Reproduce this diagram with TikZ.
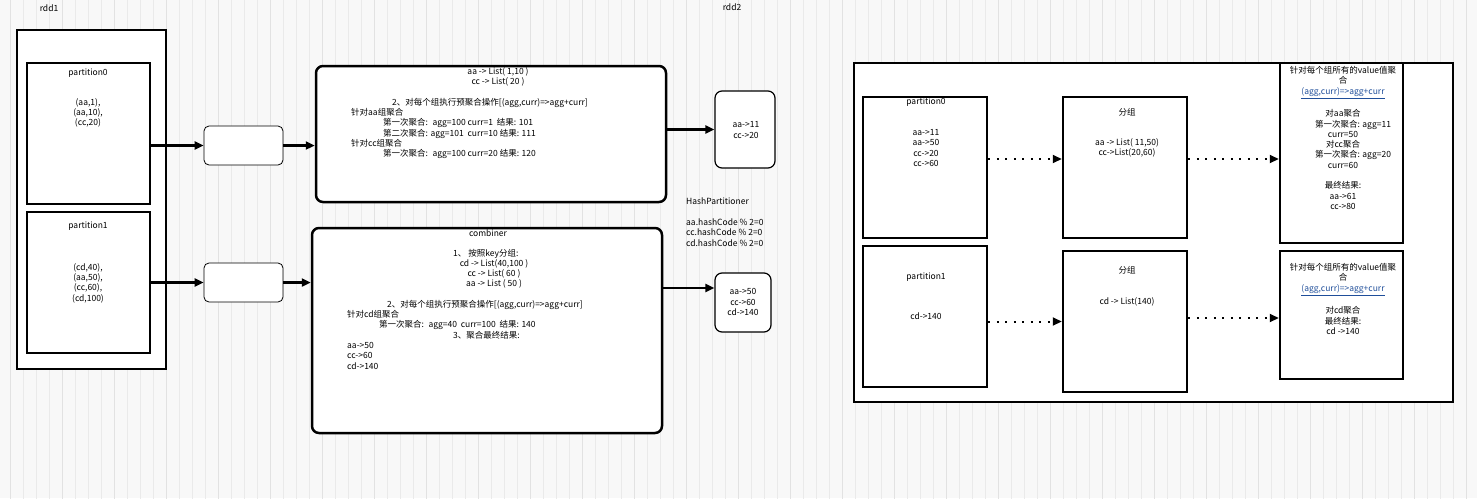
\documentclass[tikz,border=0pt]{standalone}
\usepackage{fontspec}
\setmainfont{Noto Sans CJK SC}
\usetikzlibrary{arrows.meta}
\definecolor{gridbg}{HTML}{F8F8F8}
\definecolor{gridln}{HTML}{EAEAEA}
\definecolor{gridmj}{HTML}{E2E2E2}
\definecolor{linkblue}{HTML}{1F4E9A}
\begin{document}
\begin{tikzpicture}[x=1pt,y=-1pt,
	box/.style={draw,fill=white,line width=2.5pt,inner sep=0pt},
	rbox/.style={draw,fill=white,rounded corners=7pt,inner sep=0pt},
	txt/.style={inner sep=0pt,font=\fontsize{8.5}{10.3}\selectfont,align=center},
	ltxt/.style={txt,align=left,anchor=north west},
	arr/.style={line width=2.5pt,-{Triangle[length=9pt,width=8pt]}},
	dotarr/.style={line width=2pt,dash pattern=on 2pt off 6.5pt,-{Triangle[length=9pt,width=8pt]}}]
	\useasboundingbox (0,0) rectangle (1477,498);
	% background grid
	\fill[gridbg] (0,0) rectangle (1477,498);
	\draw[gridln,line width=1pt,shift={(10.3,8.7)}] (-13,-13) grid[step=13] (1470,492);
	\draw[gridmj,line width=1pt,shift={(10.3,8.7)}] (-52,-52) grid[step=52] (1470,492);
	% rdd1
	\node[txt] (rddA) at (49,8) {rdd1};
	\node[box,line width=2pt,minimum width=149,minimum height=339] (rdd1) at (91.5,199.5) {};
	\node[box,minimum width=123,minimum height=141] (p0) at (88.5,133.5) {};
	\node[box,minimum width=123,minimum height=141] (p1) at (88.5,282.5) {};
	\node[txt] (p0t) at (88,73) {partition0};
	\node[txt] (p0d) at (88,113) {(aa,1),\\(aa,10),\\(cc,20)};
	\node[txt] (p1t) at (88,226) {partition1};
	\node[txt] (p1d) at (88,283) {(cd,40),\\(aa,50),\\(cc,60),\\(cd,100)};
	% small boxes
	\node[rbox,line width=0.8pt,rounded corners=5pt,minimum width=79,minimum height=39] (m0) at (243.5,145.5) {};
	\node[rbox,line width=0.8pt,rounded corners=5pt,minimum width=79,minimum height=39] (m1) at (243.5,282.5) {};
	% pre-aggregation of partition0
	\node[rbox,line width=2.5pt,minimum width=350,minimum height=136] (pre0) at (491,134) {};
	\node[txt] (pre0a) at (498,77) {aa -> List( 1,10 )\\cc -> List( 20 )};
	\node[ltxt] (pre0b) at (351,98) {\hspace*{41pt}2、对每个组执行预聚合操作[(agg,curr)=>agg+curr]\\
		针对aa组聚合\\
		\hspace*{32pt}第一次聚合:~ agg=100 curr=1~ 结果: 101\\
		\hspace*{32pt}第二次聚合: agg=101~ curr=10 结果: 111\\
		针对cc组聚合\\
		\hspace*{32pt}第一次聚合:~ agg=100 curr=20 结果: 120};
	% combiner
	\node[rbox,line width=2.5pt,minimum width=350,minimum height=205] (comb) at (487,330.5) {};
	\node[txt] (combt) at (488,233) {combiner};
	\node[txt,anchor=west] (combk) at (453,254) {1、 按照key分组:};
	\node[txt] (comba) at (494,274) {cd -> List(40,100 )\\cc -> List( 60 )\\aa -> List ( 50 )};
	\node[ltxt] (combb) at (347,300) {\hspace*{40pt}2、对每个组执行预聚合操作[(agg,curr)=>agg+curr]\\
		针对cd组聚合\\
		\hspace*{32pt}第一次聚合:~ agg=40~ curr=100~ 结果: 140\\
		\hspace*{106pt}3、聚合最终结果:\\
		aa->50\\cc->60\\cd->140};
	% rdd2
	\node[txt] (rddB) at (732,7) {rdd2};
	\node[rbox,line width=1.2pt,minimum width=60,minimum height=77] (r0) at (745,129.5) {};
	\node[txt] (r0d) at (746,130) {aa->11\\cc->20};
	\node[rbox,line width=1.2pt,minimum width=56,minimum height=59] (r1) at (743,302.5) {};
	\node[txt] (r1d) at (743,302) {aa->50\\cc->60\\cd->140};
	\node[ltxt] (hash) at (686,198) {HashPartitioner\\[10.3pt]aa.hashCode \% 2=0\\cc.hashCode \% 2=0\\cd.hashCode \% 2=0};
	% arrows
	\draw[arr] (p0.east |- m0.west) -- (m0.west);
	\draw[arr] (m0.east) -- (pre0.west |- m0.east);
	\draw[arr] (p1.east |- m1.west) -- (m1.west);
	\draw[arr] (m1.east) -- (comb.west |- m1.east);
	\draw[arr] (pre0.east |- r0.west) -- (r0.west);
	\coordinate (c1) at ([yshift=14.5]r1.west);
	\draw[arr] (comb.east |- c1) -- (c1);
	% right part
	\node[box,minimum width=599,minimum height=339] (rdd2) at (1153.5,232.5) {};
	\node[box,minimum width=124,minimum height=141] (rp0) at (925,167.5) {};
	\node[box,minimum width=124,minimum height=141] (rp1) at (925,316.5) {};
	\node[box,minimum width=124,minimum height=141] (g0) at (1125,167.5) {};
	\node[box,minimum width=124,minimum height=141] (g1) at (1125,321.5) {};
	\node[box,minimum width=123,minimum height=180] (a0) at (1341.5,153) {};
	\node[box,minimum width=123,minimum height=128] (a1) at (1341.5,315) {};
	\node[txt] (rp0t) at (926,102) {partition0};
	\node[txt] (rp0d) at (926,148) {aa->11\\aa->50\\cc->20\\cc->60};
	\node[txt] (rp1t) at (926,277) {partition1};
	\node[txt] (rp1d) at (926,316) {cd->140};
	\node[txt] (g0t) at (1127,112) {分组};
	\node[txt] (g0d) at (1127,148) {aa -> List( 11,50)\\cc->List(20,60)};
	\node[txt] (g1t) at (1127,270) {分组};
	\node[txt] (g1d) at (1127,302) {cd -> List(140)};
	\node[txt] (a0d) at (1343,138) {针对每个组所有的value值聚\\合\\
		\textcolor{linkblue}{\underline{(agg,curr)=>agg+curr}}\\[10.3pt]
		对aa聚合\\\hspace*{20pt}第一次聚合: agg=11\\curr=50\\
		对cc聚合\\\hspace*{20pt}第一次聚合: agg=20\\curr=60\\[10.3pt]
		最终结果:\\aa->61\\cc->80};
	\node[txt] (a1d) at (1343,299) {针对每个组所有的value值聚\\合\\
		\textcolor{linkblue}{\underline{(agg,curr)=>agg+curr}}\\[10.3pt]
		对cd聚合\\最终结果:\\cd ->140};
	% dotted arrows
	\coordinate (e0) at ([yshift=8.5]rp0.east);
	\draw[dotarr] (e0) -- (e0 -| g0.west);
	\draw[dotarr] (rp1.east |- g1.west) -- (g1.west);
	\coordinate (d0) at ([yshift=8.5]g0.east);
	\draw[dotarr] (d0) -- (d0 -| a0.west);
	\coordinate (d1) at ([yshift=3.5]g1.east);
	\draw[dotarr] (d1) -- (d1 -| a1.west);
\end{tikzpicture}
\end{document}
